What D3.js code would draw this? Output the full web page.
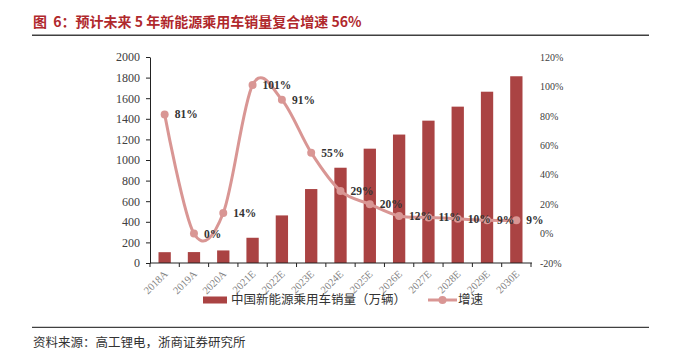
<!DOCTYPE html>
<html>
<head>
<meta charset="utf-8">
<script src="https://cdn.jsdelivr.net/npm/d3@7"></script>
<style>
  body { margin: 0; background: #fff; }
  text { white-space: pre; }
</style>
</head>
<body>
<svg id="chart"></svg>
<script>
const years = ["2018A", "2019A", "2020A", "2021E", "2022E", "2023E", "2024E", "2025E", "2026E", "2027E", "2028E", "2029E", "2030E"];
const sales = [105, 106, 122, 245, 462, 718, 925, 1110, 1247, 1382, 1518, 1663, 1813];
const growth = [81, 0, 14, 101, 91, 55, 29, 20, 12, 11, 10, 9, 9];
const leftTicks = [0, 200, 400, 600, 800, 1000, 1200, 1400, 1600, 1800, 2000];
const rightTicks = [-20, 0, 20, 40, 60, 80, 100, 120];

const width = 677, height = 353;
const margin = { top: 57, right: 146, bottom: 90, left: 150 };
const serif = "'Liberation Serif', 'DejaVu Serif', serif";
const cjk = "'Noto Sans CJK SC', sans-serif";
const barColor = "#aa4343";
const lineColor = "#d99694";

const svg = d3.select("#chart").attr("width", width).attr("height", height);

const x = d3.scaleBand().domain(years).range([margin.left, width - margin.right]).paddingInner(0.58).paddingOuter(0.29);
const y = d3.scaleLinear().domain([0, 2000]).range([height - margin.bottom, margin.top]);
const y2 = d3.scaleLinear().domain([-20, 120]).range([height - margin.bottom, margin.top]);

// title
svg.append("text")
  .attr("x", 33).attr("y", 27)
  .attr("font-family", cjk).attr("font-size", 14).attr("font-weight", "bold")
  .attr("fill", "#b0282c")
  .text("图  6：预计未来 5 年新能源乘用车销量复合增速 56%");

svg.append("line").attr("x1", 32).attr("x2", 649).attr("y1", 35.3).attr("y2", 35.3)
  .attr("stroke", "#404040").attr("stroke-width", 1.5);

// left axis
svg.append("g")
  .attr("transform", `translate(${margin.left},0)`)
  .call(d3.axisLeft(y).tickValues(leftTicks).tickSize(4).tickPadding(6).tickSizeOuter(0).tickFormat(d3.format("d")))
  .call(g => g.selectAll("line, path").attr("stroke", "#222"))
  .call(g => g.selectAll("text").attr("font-family", serif).attr("font-size", 12).attr("fill", "#404040"));

// right axis labels only
svg.append("g")
  .attr("transform", `translate(${width - margin.right},0)`)
  .call(d3.axisRight(y2).tickValues(rightTicks).tickSize(0).tickPadding(9).tickFormat(d => d + "%"))
  .call(g => g.select(".domain").remove())
  .call(g => g.selectAll("text").attr("font-family", serif).attr("font-size", 10).attr("fill", "#404040"));

// bars
svg.append("g").selectAll("rect")
  .data(years)
  .join("rect")
  .attr("x", d => x(d))
  .attr("width", x.bandwidth())
  .attr("y", (d, i) => y(sales[i]))
  .attr("height", (d, i) => y(0) - y(sales[i]))
  .attr("fill", barColor);

// x axis with ticks between categories
const step = x.step();
const xAxis = svg.append("g").attr("transform", `translate(0,${y(0)})`);
xAxis.append("line").attr("x1", margin.left).attr("x2", width - margin.right + 1)
  .attr("stroke", "#222");
xAxis.selectAll(".tk")
  .data(d3.range(years.length + 1))
  .join("line")
  .attr("x1", i => margin.left + i * step).attr("x2", i => margin.left + i * step)
  .attr("y1", 0).attr("y2", 4)
  .attr("stroke", "#222");
xAxis.selectAll(".lbl")
  .data(years)
  .join("text")
  .attr("transform", d => `translate(${x(d) + x.bandwidth() / 2 + 1},${9}) rotate(-45)`)
  .attr("text-anchor", "end")
  .attr("dy", "0.35em")
  .attr("font-family", serif).attr("font-size", 10.5)
  .attr("fill", "#7f7f7f")
  .text(d => d);

// growth line
const cx = d => x(d) + x.bandwidth() / 2;
const line = d3.line()
  .x((d, i) => cx(years[i]))
  .y(d => y2(d))
  .curve(d3.curveCardinal.tension(0));

svg.append("path")
  .datum(growth)
  .attr("d", line)
  .attr("fill", "none")
  .attr("stroke", lineColor)
  .attr("stroke-width", 3);

svg.append("g").selectAll("circle")
  .data(growth)
  .join("circle")
  .attr("cx", (d, i) => cx(years[i]))
  .attr("cy", d => y2(d))
  .attr("r", 4)
  .attr("fill", lineColor);

svg.append("g").selectAll("text")
  .data(growth)
  .join("text")
  .attr("x", (d, i) => cx(years[i]) + 10)
  .attr("y", d => y2(d))
  .attr("dy", "0.35em")
  .attr("font-family", serif).attr("font-size", 11.5).attr("font-weight", "bold")
  .attr("fill", "#333")
  .text(d => d + "%");

// legend
const legend = svg.append("g").attr("transform", "translate(0,300)");
legend.append("rect").attr("x", 203).attr("y", -3.5).attr("width", 24).attr("height", 7).attr("fill", barColor);
legend.append("text").attr("x", 231).attr("y", 0).attr("dy", "0.35em")
  .attr("font-family", cjk).attr("font-size", 12.5).attr("fill", "#333")
  .text("中国新能源乘用车销量（万辆）");
legend.append("line").attr("x1", 428).attr("x2", 457).attr("y1", 0).attr("y2", 0)
  .attr("stroke", lineColor).attr("stroke-width", 3);
legend.append("circle").attr("cx", 442.5).attr("cy", 0).attr("r", 4).attr("fill", lineColor);
legend.append("text").attr("x", 458).attr("y", 0).attr("dy", "0.35em")
  .attr("font-family", cjk).attr("font-size", 12.5).attr("fill", "#333")
  .text("增速");

// footer
svg.append("line").attr("x1", 32).attr("x2", 649).attr("y1", 327.3).attr("y2", 327.3)
  .attr("stroke", "#404040").attr("stroke-width", 1.2);
svg.append("text")
  .attr("x", 33).attr("y", 343).attr("dy", "0.35em")
  .attr("font-family", cjk).attr("font-size", 12.5).attr("fill", "#333")
  .text("资料来源：高工锂电，浙商证券研究所");
</script>
</body>
</html>
